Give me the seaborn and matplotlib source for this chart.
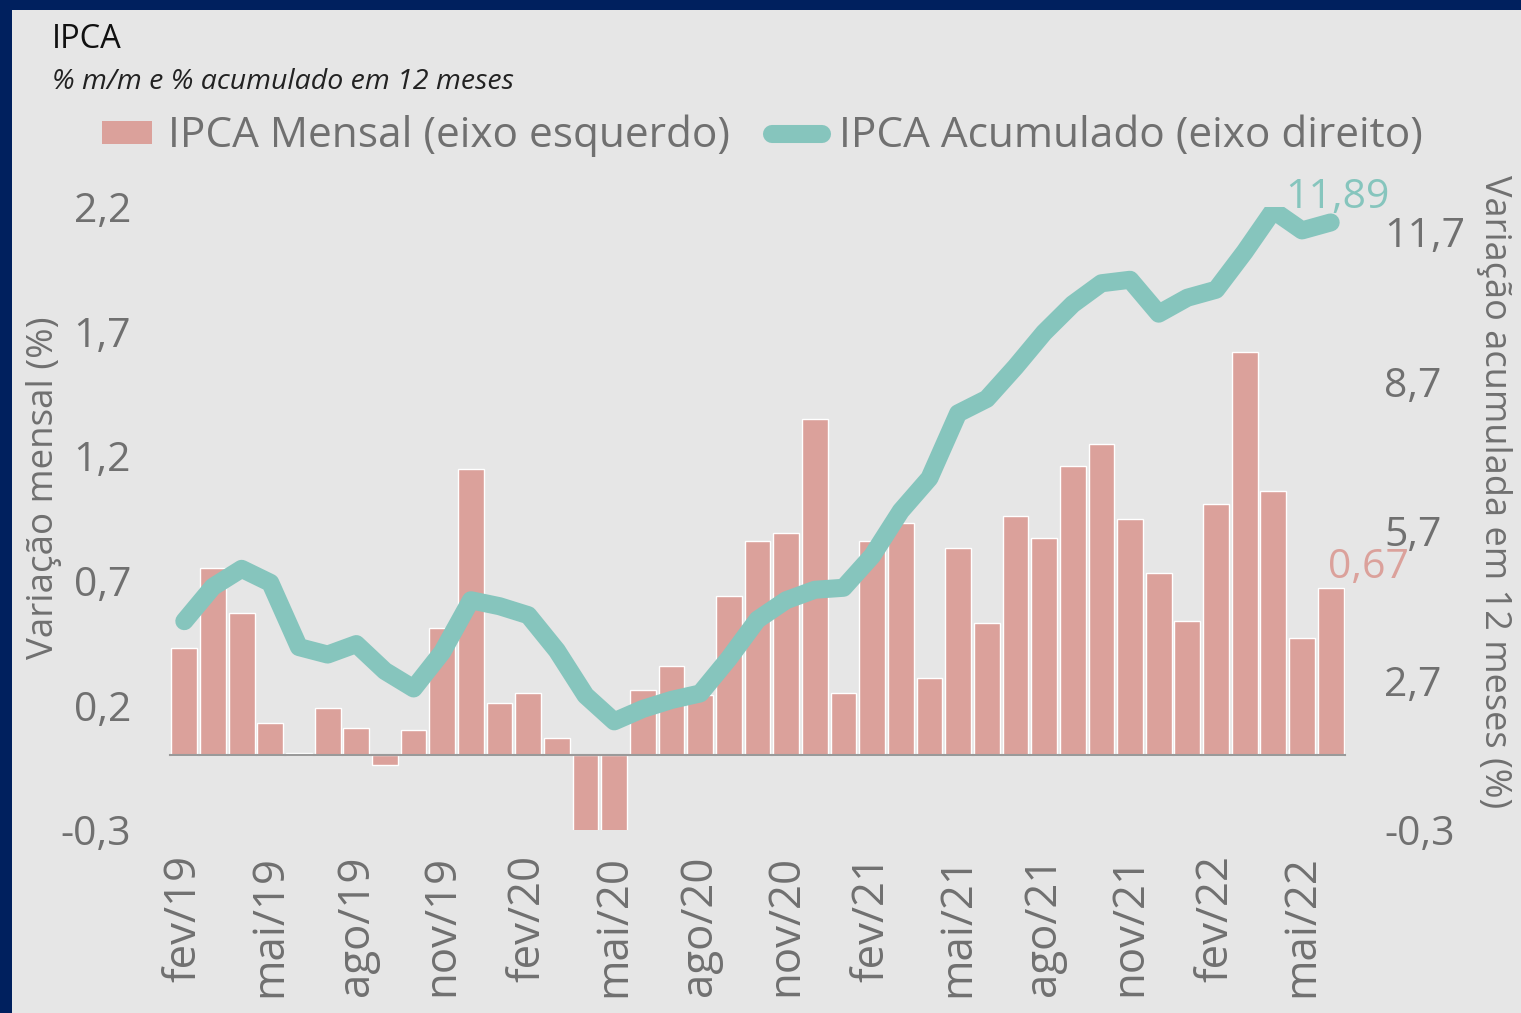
import numpy as np
import pandas as pd
import matplotlib.pyplot as plt
import seaborn as sns
from matplotlib.patches import Rectangle, Patch
from matplotlib.lines import Line2D
from matplotlib.ticker import FixedLocator

# dados (fev/19 a jun/22)
nomes_mes = ['jan', 'fev', 'mar', 'abr', 'mai', 'jun', 'jul', 'ago', 'set', 'out', 'nov', 'dez']
meses = [f"{nomes_mes[(m - 1) % 12]}/{19 + (m - 1) // 12}" for m in range(2, 2 + 41)]

ipca_mensal = [0.43, 0.75, 0.57, 0.13, 0.01, 0.19, 0.11, -0.04, 0.10, 0.51, 1.15,
               0.21, 0.25, 0.07, -0.31, -0.38, 0.26, 0.36, 0.24, 0.64, 0.86, 0.89, 1.35,
               0.25, 0.86, 0.93, 0.31, 0.83, 0.53, 0.96, 0.87, 1.16, 1.25, 0.95, 0.73,
               0.54, 1.01, 1.62, 1.06, 0.47, 0.67]
ipca_acum = [3.89, 4.58, 4.94, 4.66, 3.37, 3.22, 3.43, 2.89, 2.54, 3.27, 4.31,
             4.19, 4.01, 3.30, 2.40, 1.88, 2.13, 2.31, 2.44, 3.14, 3.92, 4.31, 4.52,
             4.56, 5.20, 6.10, 6.76, 8.06, 8.35, 8.99, 9.68, 10.25, 10.67, 10.74, 10.06,
             10.38, 10.54, 11.30, 12.13, 11.73, 11.89]

ticks_esq = [-0.3, 0.2, 0.7, 1.2, 1.7, 2.2]
ticks_dir = [-0.3, 2.7, 5.7, 8.7, 11.7]

COR_BARRA = '#dba19b'
COR_LINHA = '#86c5bd'
COR_TEXTO = '#707070'
FUNDO = '#e6e6e6'
MOLDURA = '#00205e'

df = pd.DataFrame({'mes': meses, 'mensal': ipca_mensal, 'acum': ipca_acum})
df['pos'] = np.arange(len(df))

sns.set_theme(style='white')
plt.rcParams['font.family'] = ['Open Sans', 'DejaVu Sans']

fig = plt.figure(figsize=(15.21, 10.13), dpi=100)
fig.patch.set_facecolor(MOLDURA)
fig.add_artist(Rectangle((12 / 1521, 0), 1, 1 - 10 / 1013, transform=fig.transFigure,
                         facecolor=FUNDO, edgecolor='none', zorder=-5))

ax = fig.add_axes([170 / 1521, 1 - 830 / 1013, (1345 - 170) / 1521, (830 - 207) / 1013])
ax.set_facecolor('none')

sns.barplot(data=df, x='mes', y='mensal', color=COR_BARRA, saturation=1, width=0.9,
            ax=ax, zorder=2)
ax.set_xlim(-0.5, len(df) - 0.5)
ax.set_ylim(-0.3, 2.2)
ax.set_yticks(ticks_esq)
ax.set_yticklabels([f"{t:.1f}".replace('.', ',') for t in ticks_esq])
ax.tick_params(axis='y', length=0, pad=28, labelsize=29.5, labelcolor=COR_TEXTO)

for s in ['left', 'right', 'top']:
    ax.spines[s].set_visible(False)
ax.spines['bottom'].set_position(('data', 0))
ax.spines['bottom'].set_color('#9a9a9a')
ax.spines['bottom'].set_linewidth(1.5)

pos_lbl = df['pos'][::3].tolist()
ax.xaxis.set_major_locator(FixedLocator(pos_lbl))
ax.set_xticklabels(df['mes'][::3], rotation=90, va='top', ha='center')
ax.xaxis.set_minor_locator(FixedLocator([p - 0.5 for p in pos_lbl]))
ax.tick_params(axis='x', which='major', length=0, pad=72, labelsize=31.5, labelcolor=COR_TEXTO)
ax.tick_params(axis='x', which='minor', length=9, width=1.5, color='#9a9a9a', direction='out')
ax.set_xlabel('')
ax.set_ylabel('Variação mensal (%)', fontsize=26.5, color=COR_TEXTO, va='center', ha='center')
ax.yaxis.set_label_coords(-0.107, 0.55)

ax2 = ax.twinx()
sns.lineplot(data=df, x='pos', y='acum', color=COR_LINHA, linewidth=13, ax=ax2,
             solid_capstyle='round', solid_joinstyle='round')
ax2.set_ylim(-0.3, 12.2)
ax2.set_xlim(-0.5, len(df) - 0.5)
ax2.set_yticks(ticks_dir)
ax2.set_yticklabels([f"{t:.1f}".replace('.', ',') for t in ticks_dir])
ax2.tick_params(axis='y', length=0, pad=28, labelsize=29.5, labelcolor=COR_TEXTO)
for s in ['left', 'right', 'top', 'bottom']:
    ax2.spines[s].set_visible(False)
ax2.set_xlabel('')
ax2.set_ylabel('Variação acumulada em 12 meses (%)', fontsize=26, color=COR_TEXTO,
               rotation=-90, va='center', ha='center')
ax2.yaxis.set_label_coords(1.127, 0.543)

# rótulos do último ponto
ult = df.iloc[-1]
ax2.annotate(f"{ult['acum']:.2f}".replace('.', ','), (ult['pos'], ult['acum']),
             xytext=(5, 3), textcoords='offset points', ha='center', va='bottom',
             fontsize=29.5, color=COR_LINHA)
ax.annotate(f"{ult['mensal']:.2f}".replace('.', ','), (ult['pos'], ult['mensal']),
            xytext=(-2, 0), textcoords='offset points', ha='left', va='bottom',
            fontsize=29.5, color=COR_BARRA)

# títulos
fig.text(52 / 1521, 1 - 40 / 1013, 'IPCA', fontsize=23.5, color='#111111',
         va='center', ha='left')
fig.text(52 / 1521, 1 - 82 / 1013, '% m/m e % acumulado em 12 meses', fontsize=20.5,
         color='#222222', style='italic', va='center', ha='left')

handles = [Patch(facecolor=COR_BARRA, edgecolor='none'),
           Line2D([0], [0], color=COR_LINHA, linewidth=13, solid_capstyle='round')]
fig.legend(handles, ['IPCA Mensal (eixo esquerdo)', 'IPCA Acumulado (eixo direito)'],
           loc='center left', bbox_to_anchor=(102 / 1521, 1 - 136 / 1013), ncol=2,
           frameon=False, fontsize=30.5, labelcolor=COR_TEXTO, handlelength=1.18,
           handleheight=0.45, handletextpad=0.38, columnspacing=1.0, borderpad=0,
           borderaxespad=0)

plt.savefig('out.png', dpi=100, facecolor=fig.get_facecolor())
plt.close()
